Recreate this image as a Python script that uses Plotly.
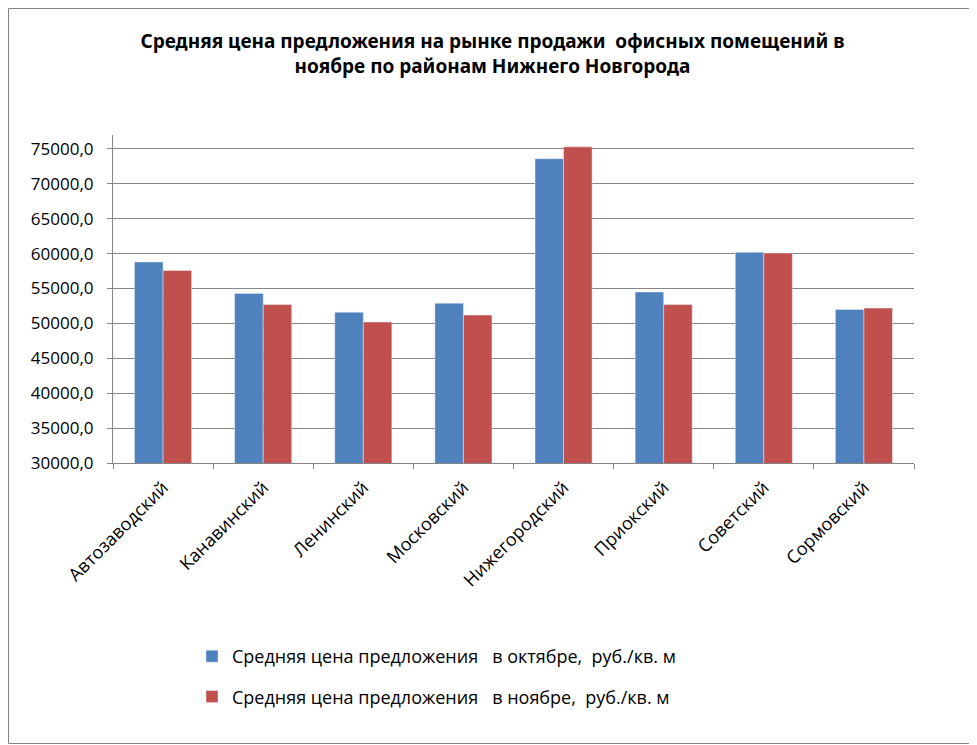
import plotly.graph_objects as go

districts = ["Автозаводский", "Канавинский", "Ленинский", "Московский",
             "Нижегородский", "Приокский", "Советский", "Сормовский"]
october = [58800, 54300, 51600, 52900, 73600, 54500, 60200, 52000]
november = [57600, 52700, 50200, 51200, 75300, 52700, 60100, 52200]

name_oct = "Средняя цена предложения   в октябре,  руб./кв. м"
name_nov = "Средняя цена предложения   в ноябре,  руб./кв. м"

# the page adds an 8px body margin, so the figure is 8px smaller
W, H = 969, 737
L, R, T, B = 105, 63, 127, 282
pw, ph = W - L - R, H - T - B

fig = go.Figure()
fig.add_trace(go.Bar(x=districts, y=october, name=name_oct, marker_color="#4F81BD", legendgroup="a"))
fig.add_trace(go.Bar(x=districts, y=november, name=name_nov, marker_color="#C0504D", legendgroup="b"))

fig.update_layout(
    width=W, height=H,
    margin=dict(l=L, r=R, t=T, b=B),
    paper_bgcolor="white", plot_bgcolor="white",
    separators=", ",
    barmode="group", bargap=0.43, bargroupgap=0,
    font=dict(family="Open Sans, DejaVu Sans, sans-serif", color="black"),
    title=dict(
        text="<b>Средняя цена предложения на рынке продажи  офисных помещений в<br>ноябре по районам Нижнего Новгорода</b>",
        x=0.5, xanchor="center", y=1 - 40 / H, yanchor="middle",
        font=dict(family="Noto Sans", size=19),
    ),
    legend=dict(
        x=(192 - 113) / pw, y=(463 - 638) / ph, xanchor="left", yanchor="top",
        font=dict(size=18), tracegroupgap=14, traceorder="grouped",
    ),
    showlegend=True,
)
fig.update_yaxes(
    range=[30000, 77000], tickvals=list(range(30000, 75001, 5000)), tickformat=".1f",
    showgrid=True, gridcolor="#868686", gridwidth=1,
    showline=True, linecolor="#868686", ticks="outside", ticklen=5, tickcolor="#868686",
    tickfont=dict(size=17), zeroline=False, ticklabelstandoff=10,
)
fig.update_xaxes(
    tickangle=-45, tickfont=dict(size=18),
    showline=True, linecolor="#868686", ticks="outside", ticklen=5, tickcolor="#868686",
    tickson="boundaries", ticklabelstandoff=6,
)
fig.add_shape(
    type="rect", xref="paper", yref="paper",
    x0=-(L - 0.5) / pw, x1=(W - 1.5 - L) / pw, y0=-(B - 1.5) / ph, y1=(ph + T - 0.5) / ph,
    line=dict(color="#868686", width=1), fillcolor="rgba(0,0,0,0)", layer="below",
)
fig.write_html("out.html")
